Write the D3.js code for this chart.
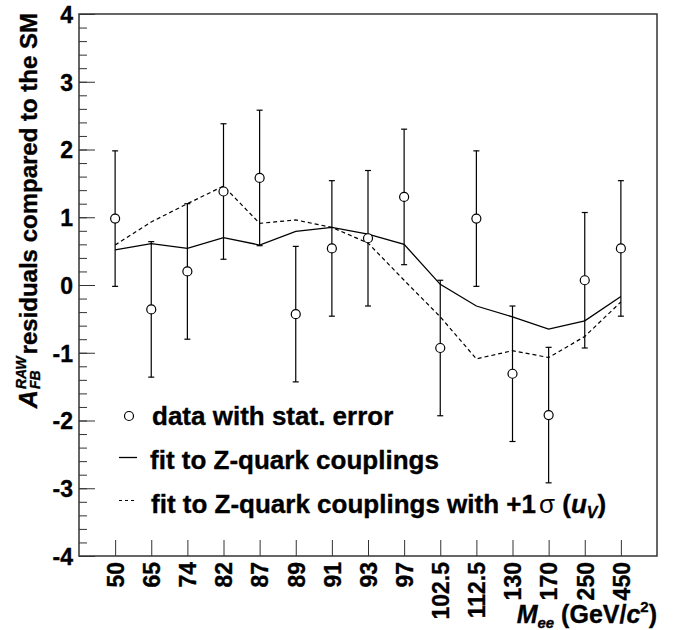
<!DOCTYPE html>
<html><head><meta charset="utf-8">
<script src="https://cdn.jsdelivr.net/npm/d3@7"></script>
<style>body{margin:0;background:#fff}svg{display:block}text{font-family:"Liberation Sans",Arial,Helvetica,sans-serif;font-weight:bold;fill:#000;stroke:#000;stroke-width:0.35px}</style>
</head><body><svg id="c" width="684" height="630"></svg>
<script>
const masses = ["50","65","74","82","87","89","91","93","97","102.5","112.5","130","170","250","450"];
const dataVals = [0.98,-0.36,0.20,1.38,1.58,-0.43,0.54,0.69,1.30,-0.93,0.98,-1.31,-1.92,0.07,0.54];
const dataErr = [1.0,1.0,1.0,1.0,1.0,1.0,1.0,1.0,1.0,1.0,1.0,1.0,1.0,1.0,1.0];
const fitVals = [0.52,0.61,0.54,0.70,0.59,0.79,0.85,0.75,0.60,0.01,-0.31,-0.47,-0.65,-0.53,-0.17];
const fitUvVals = [0.59,0.93,1.20,1.46,0.91,0.96,0.85,0.62,0.07,-0.47,-1.09,-0.97,-1.07,-0.76,-0.25];
const yTicks = [-4,-3,-2,-1,0,1,2,3,4];

const L=79,R=657,T=14,B=556;
const svg = d3.select("#c");
const x = d3.scalePoint().domain(masses).range([L,R]).padding(1);
const y = d3.scaleLinear().domain([-4,4]).range([B,T]);
const FF = '"Liberation Sans",Arial,sans-serif';

// frame
svg.append("rect").attr("x",L).attr("y",T).attr("width",R-L).attr("height",B-T)
  .attr("fill","none").attr("stroke","#333").attr("stroke-width",1.5);

// y axis ticks (inside)
const minor = d3.range(-4,4.001,0.2).map(v=>+v.toFixed(1));
svg.append("g").attr("transform",`translate(${L},0)`)
  .call(d3.axisRight(y).tickValues(minor).tickSize(8).tickFormat(""))
  .call(g=>g.select(".domain").remove())
  .call(g=>g.selectAll("line").attr("stroke","#333"));
svg.append("g").attr("transform",`translate(${L},0)`)
  .call(d3.axisRight(y).tickValues(yTicks).tickSize(16).tickFormat(""))
  .call(g=>g.select(".domain").remove())
  .call(g=>g.selectAll("line").attr("stroke","#333"));
svg.append("g").attr("transform",`translate(${L},0)`)
  .call(d3.axisLeft(y).tickValues(yTicks).tickSize(0).tickPadding(6).tickFormat(d=>String(d)))
  .call(g=>g.select(".domain").remove())
  .call(g=>g.selectAll("text").attr("font-size",23).attr("dy","0.36em").style("font-family",FF).style("font-weight","bold"));

// x axis
svg.append("g").attr("transform",`translate(0,${B})`)
  .call(d3.axisTop(x).tickSize(16).tickFormat(""))
  .call(g=>g.select(".domain").remove())
  .call(g=>g.selectAll("line").attr("stroke","#333"));
svg.append("g").attr("transform",`translate(0,${B})`)
  .call(d3.axisBottom(x).tickSize(0))
  .call(g=>g.select(".domain").remove())
  .call(g=>g.selectAll("text").attr("transform","rotate(-90)").attr("x",-6).attr("y",0).attr("dy","0.36em")
     .attr("text-anchor","end").attr("font-size",23).style("font-family",FF).style("font-weight","bold"));

// lines
const line = vals => d3.line().x((d,i)=>x(masses[i])).y(d=>y(d))(vals);
svg.append("path").attr("d",line(fitVals)).attr("fill","none").attr("stroke","#000").attr("stroke-width",1.3);
svg.append("path").attr("d",line(fitUvVals)).attr("fill","none").attr("stroke","#000").attr("stroke-width",1.2).attr("stroke-dasharray","4,3");

// error bars
const eb = svg.append("g").attr("stroke","#000").attr("stroke-width",1.2);
masses.forEach((m,i)=>{
  const cx=x(m), y1=y(dataVals[i]+dataErr[i]), y2=y(dataVals[i]-dataErr[i]);
  eb.append("line").attr("x1",cx).attr("x2",cx).attr("y1",y1).attr("y2",y2);
  eb.append("line").attr("x1",cx-3).attr("x2",cx+3).attr("y1",y1).attr("y2",y1);
  eb.append("line").attr("x1",cx-3).attr("x2",cx+3).attr("y1",y2).attr("y2",y2);
});
svg.append("g").selectAll("circle").data(dataVals).join("circle")
  .attr("cx",(d,i)=>x(masses[i])).attr("cy",d=>y(d)).attr("r",4.5)
  .attr("fill","#fff").attr("stroke","#000").attr("stroke-width",1.2);

// legend
const lg = svg.append("g");
lg.append("circle").attr("cx",129).attr("cy",416).attr("r",4.5).attr("fill","#fff").attr("stroke","#000").attr("stroke-width",1.2);
lg.append("text").attr("x",152).attr("y",425).attr("font-size",26).text("data with stat. error");
lg.append("line").attr("x1",119).attr("x2",137).attr("y1",457.5).attr("y2",457.5).attr("stroke","#000").attr("stroke-width",1.3);
lg.append("text").attr("x",150).attr("y",469).attr("font-size",26).text("fit to Z-quark couplings");
lg.append("line").attr("x1",119).attr("x2",137).attr("y1",500.5).attr("y2",500.5).attr("stroke","#000").attr("stroke-width",1.2).attr("stroke-dasharray","3,3");
const t3 = lg.append("text").attr("x",151).attr("y",513).attr("font-size",26);
t3.append("tspan").text("fit to Z-quark couplings with +1");
t3.append("tspan").attr("dx",3).style("font-weight","normal").style("stroke-width","0px").text("\u03c3");
t3.append("tspan").text(" (");
t3.append("tspan").attr("font-style","italic").text("u");
t3.append("tspan").attr("font-style","italic").attr("font-size",16).attr("dy",5).text("V");
t3.append("tspan").attr("dy",-5).text(")");

// x title
const xt = svg.append("text").attr("x",512).attr("y",623).attr("font-size",25);
xt.append("tspan").attr("font-style","italic").text("M");
xt.append("tspan").attr("font-style","italic").attr("font-size",15).attr("dy",5).text("ee");
xt.append("tspan").attr("dy",-5).text(" (GeV/");
xt.append("tspan").attr("font-style","italic").text("c");
xt.append("tspan").attr("font-size",15).attr("dy",-11).text("2");
xt.append("tspan").attr("dy",11).text(")");
const xtw = xt.node().getComputedTextLength();
xt.attr("x", 657 - xtw);

// y title
const yg = svg.append("g").attr("transform","translate(37,0) rotate(-90)");
const aT = yg.append("text").attr("x",0).attr("y",0).attr("font-size",25).attr("font-style","italic").text("A");
const aw = aT.node().getComputedTextLength();
const fb = yg.append("text").attr("x",aw+1).attr("y",3).attr("font-size",14).attr("font-style","italic").text("FB");
const raw = yg.append("text").attr("x",aw+1).attr("y",-11).attr("font-size",14).attr("font-style","italic").text("RAW");
const sw = Math.max(fb.node().getComputedTextLength(), raw.node().getComputedTextLength());
const rest = yg.append("text").attr("x",aw+1+sw+2).attr("y",0).attr("font-size",24).text("residuals compared to the SM");
const total = aw+1+sw+2+rest.node().getComputedTextLength();
yg.attr("transform",`translate(37,${13+total}) rotate(-90)`);
</script></body></html>
